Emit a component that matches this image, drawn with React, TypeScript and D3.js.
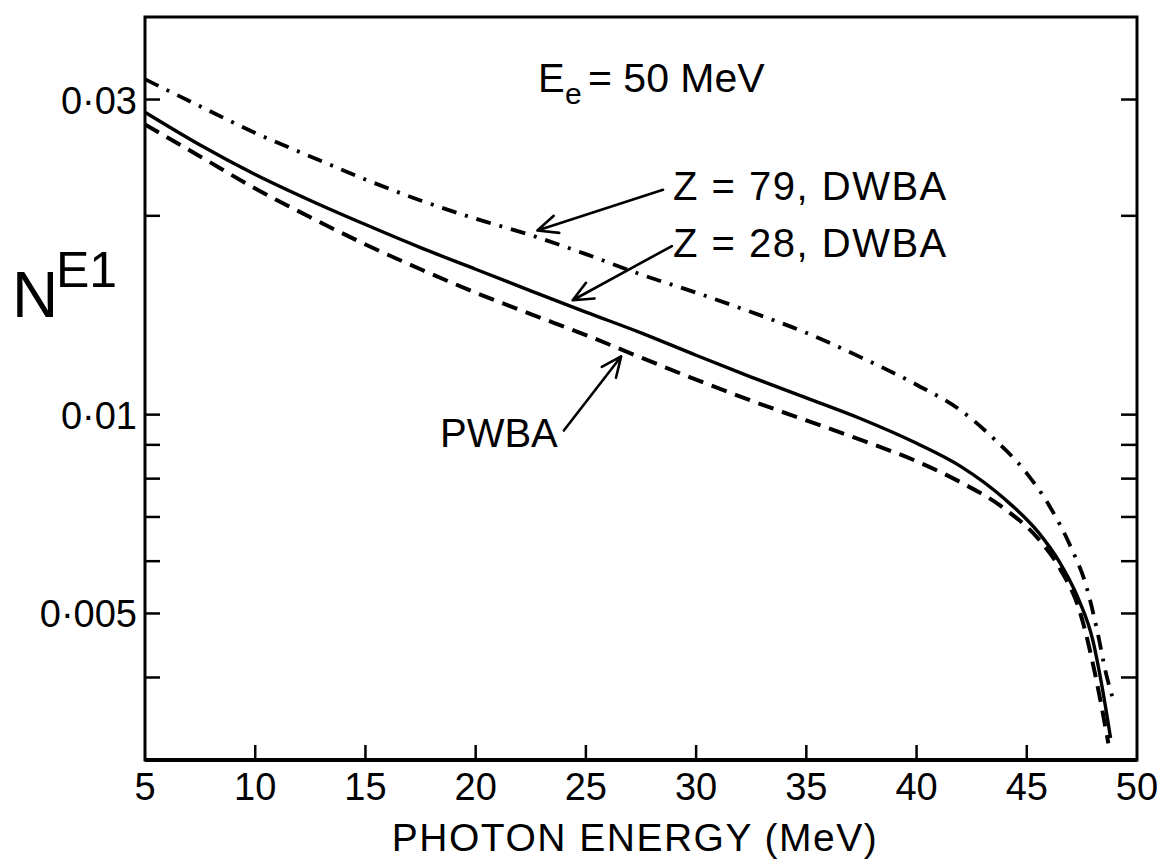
import React from 'react';
import * as d3 from 'd3';

// photon energy (MeV) and N^E1
const z79E = [5, 7.5, 10, 12.5, 15, 17.5, 20, 22.5, 25, 27.5, 30, 32.5, 35, 37.5, 40, 42, 43.5, 45, 46, 47, 47.7, 48.2, 48.6, 48.9];
const z79N = [0.0322, 0.0293, 0.0267, 0.0246, 0.0227, 0.0211, 0.0198, 0.0187, 0.0175, 0.0163, 0.0153, 0.0143, 0.0133, 0.0122, 0.0111, 0.01015, 0.0092, 0.00815, 0.0073, 0.0063, 0.0055, 0.0047, 0.00405, 0.00372];

const z28E = [5, 7.5, 10, 12.5, 15, 17.5, 20, 22.5, 25, 27.5, 30, 32.5, 35, 37.5, 40, 42, 44, 45.5, 46.5, 47.3, 48, 48.4, 48.8];
const z28N = [0.0287, 0.0256, 0.0231, 0.0211, 0.0194, 0.0179, 0.0166, 0.0154, 0.0143, 0.0133, 0.0123, 0.0114, 0.0106, 0.00985, 0.00905, 0.00835, 0.00745, 0.00665, 0.00597, 0.0053, 0.00455, 0.0039, 0.00324];

const pwbaE = [5, 7.5, 10, 12.5, 15, 17.5, 20, 22.5, 25, 27.5, 30, 32.5, 35, 37.5, 40, 42, 44, 45.5, 46.5, 47.4, 48.2, 48.7];
const pwbaN = [0.0275, 0.0246, 0.022, 0.0199, 0.0181, 0.0166, 0.0153, 0.0142, 0.0132, 0.0122, 0.0113, 0.0105, 0.0098, 0.00915, 0.0085, 0.0079, 0.0072, 0.0065, 0.00585, 0.00504, 0.0039, 0.00318];

const xTicks = [5, 10, 15, 20, 25, 30, 35, 40, 45, 50];
const yTicks = [0.03, 0.02, 0.01, 0.009, 0.008, 0.007, 0.006, 0.005, 0.004];
const yLabels = [0.03, 0.01, 0.005];

// arrows: [fromE, fromN, tipE, tipN]
const arrows = [
  [28.5, 0.0219, 22.8, 0.0190],
  [28.9, 0.0180, 24.4, 0.0149],
  [24.0, 0.00946, 26.6, 0.01225],
];

const W = 1161, H = 861;
const left = 145, right = 1137, top = 17, bottom = 760;
const font = 'Liberation Sans, Arial, sans-serif';

const App = () => {
  const x = d3.scaleLinear().domain([5, 50]).range([left, right]);
  const y = d3.scaleLog().domain([0.003, 0.04]).range([bottom, top]);
  const line = d3.line<number[]>().x(d => x(d[0])).y(d => y(d[1])).curve(d3.curveMonotoneX);
  const pts = (e: number[], n: number[]) => e.map((v, i) => [v, n[i]]);

  const arrowPaths = arrows.map(([e0, n0, e1, n1]) => {
    const x0 = x(e0), y0 = y(n0), x1 = x(e1), y1 = y(n1);
    const a = Math.atan2(y0 - y1, x0 - x1);
    const len = 22, sp = 0.42;
    const bx1 = x1 + len * Math.cos(a + sp), by1 = y1 + len * Math.sin(a + sp);
    const bx2 = x1 + len * Math.cos(a - sp), by2 = y1 + len * Math.sin(a - sp);
    return `M${x0},${y0}L${x1},${y1}M${bx1},${by1}L${x1},${y1}L${bx2},${by2}`;
  });

  return (
    <svg width={W} height={H} style={{ position: 'absolute', left: 0, top: 0, background: '#fff' }} fontFamily={font}>
      <rect x={0} y={0} width={W} height={H} fill="#fff" />
      {/* curves */}
      <path d={line(pts(z79E, z79N)) || ''} fill="none" stroke="#000" strokeWidth={3.8} strokeDasharray="15 9 3 9" />
      <path d={line(pts(z28E, z28N)) || ''} fill="none" stroke="#000" strokeWidth={3.4} />
      <path d={line(pts(pwbaE, pwbaN)) || ''} fill="none" stroke="#000" strokeWidth={4} strokeDasharray="16 9" />

      {/* frame */}
      <rect x={left} y={top} width={right - left} height={bottom - top} fill="none" stroke="#000" strokeWidth={3} />
      <line x1={left} x2={right} y1={bottom} y2={bottom} stroke="#000" strokeWidth={4} />

      {/* x ticks */}
      {xTicks.map(t => (
        <g key={'x' + t}>
          {t > 5 && t < 50 && <line x1={x(t)} x2={x(t)} y1={bottom} y2={bottom - 15} stroke="#000" strokeWidth={2.5} />}
          <text x={x(t)} y={800} fontSize={38} textAnchor="middle">{t}</text>
        </g>
      ))}
      {/* y ticks both sides */}
      {yTicks.map(t => (
        <g key={'y' + t}>
          <line x1={left} x2={left + 15} y1={y(t)} y2={y(t)} stroke="#000" strokeWidth={2.5} />
          <line x1={right} x2={right - 16} y1={y(t)} y2={y(t)} stroke="#000" strokeWidth={2.5} />
        </g>
      ))}
      {yLabels.map(t => (
        <text key={'yl' + t} x={137} y={y(t) + 14} fontSize={38} textAnchor="end">
          {String(t).replace('.', '·')}
        </text>
      ))}

      {/* axis titles */}
      <text x={12} y={317} fontSize={64}>N</text>
      <text x={56} y={287} fontSize={50}>E1</text>
      <text x={(left + right) / 2 - 6} y={851} fontSize={39} letterSpacing={1.5} textAnchor="middle">PHOTON  ENERGY  (MeV)</text>

      {/* annotations */}
      <text x={538} y={92} fontSize={40}>E</text>
      <text x={565} y={104} fontSize={30}>e</text>
      <text x={588} y={92} fontSize={41}>= 50 MeV</text>
      <text x={673} y={200} fontSize={40} letterSpacing={1.5}>Z = 79, DWBA</text>
      <text x={673} y={257} fontSize={40} letterSpacing={1.5}>Z = 28, DWBA</text>
      <text x={440} y={447} fontSize={40}>PWBA</text>
      {arrowPaths.map((d, i) => (
        <path key={'a' + i} d={d} fill="none" stroke="#000" strokeWidth={2.6} strokeLinecap="round" strokeLinejoin="round" />
      ))}
    </svg>
  );
};

export default App;
